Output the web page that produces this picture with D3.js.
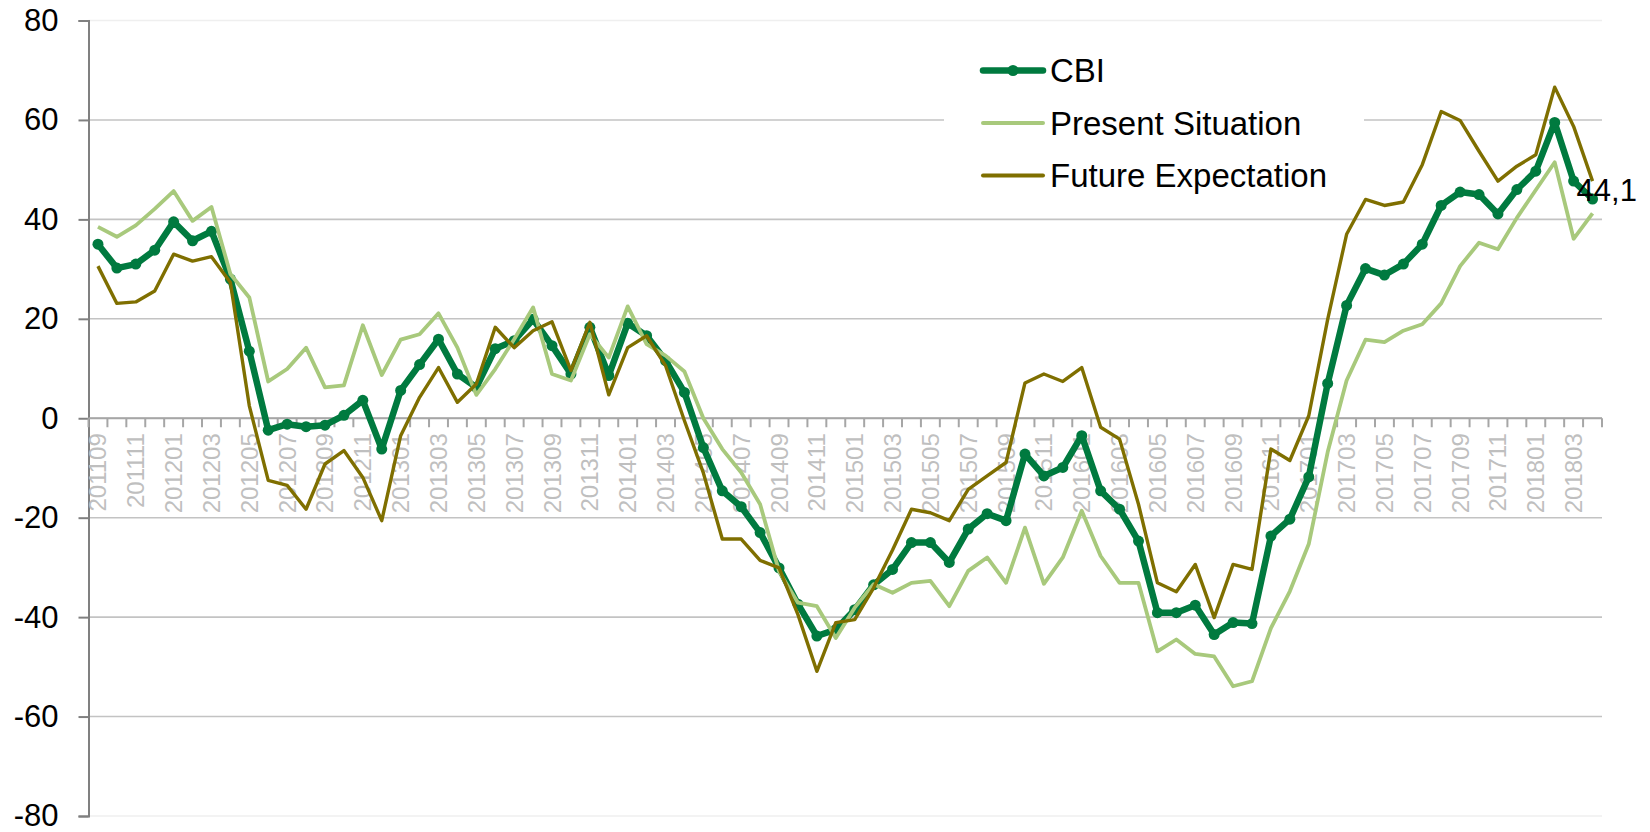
<!DOCTYPE html>
<html>
<head>
<meta charset="utf-8">
<script src="https://cdn.jsdelivr.net/npm/d3@7"></script>
<style>
  html, body { margin: 0; padding: 0; background: #fff; }
  svg { display: block; font-family: "Liberation Sans", Arial, sans-serif; }
</style>
</head>
<body>
<svg id="chart" width="1650" height="832"></svg>
<script>
// categories: month codes
var months = [
  "201109","201110","201111","201112",
  "201201","201202","201203","201204","201205","201206","201207","201208","201209","201210","201211","201212",
  "201301","201302","201303","201304","201305","201306","201307","201308","201309","201310","201311","201312",
  "201401","201402","201403","201404","201405","201406","201407","201408","201409","201410","201411","201412",
  "201501","201502","201503","201504","201505","201506","201507","201508","201509","201510","201511","201512",
  "201601","201602","201603","201604","201605","201606","201607","201608","201609","201610","201611","201612",
  "201701","201702","201703","201704","201705","201706","201707","201708","201709","201710","201711","201712",
  "201801","201802","201803","201804"
];

var cbi = [
  35.0, 30.2, 31.0, 33.8,
  39.5, 35.7, 37.6, 28.0, 13.5, -2.4, -1.2, -1.7, -1.4, 0.6, 3.6, -6.2,
  5.6, 10.8, 15.9, 8.9, 6.2, 14.0, 15.6, 19.9, 14.6, 8.9, 18.3, 8.6,
  19.1, 16.6, 11.6, 5.2, -5.9, -14.6, -17.8, -23.0, -30.1, -37.4, -43.8, -42.5,
  -38.5, -33.5, -30.4, -25.0, -25.0, -29.0, -22.3, -19.2, -20.6, -7.2, -11.6, -9.9,
  -3.5, -14.6, -18.3, -24.7, -39.1, -39.1, -37.6, -43.5, -41.1, -41.3, -23.7, -20.3,
  -11.8, 7.0, 22.7, 30.1, 28.8, 31.0, 35.0, 42.8, 45.5, 45.0, 41.1, 46.0,
  49.7, 59.5, 47.7, 44.1
];

var present = [
  38.5, 36.5, 38.8, 42.1,
  45.7, 39.7, 42.5, 29.0, 24.3, 7.4, 9.9, 14.2, 6.2, 6.6, 18.7, 8.7,
  15.8, 16.9, 21.1, 14.2, 4.7, 9.9, 15.9, 22.3, 8.9, 7.6, 16.9, 12.2,
  22.5, 14.9, 12.6, 9.4, 0.0, -6.2, -10.9, -17.3, -30.8, -37.1, -37.8, -44.2,
  -38.1, -33.4, -35.1, -33.1, -32.7, -37.8, -30.7, -28.0, -33.1, -22.0, -33.3, -28.0,
  -18.6, -27.7, -33.1, -33.1, -46.9, -44.5, -47.4, -47.9, -53.9, -52.9, -42.2, -34.8,
  -25.3, -6.8, 7.6, 15.8, 15.3, 17.6, 18.9, 23.1, 30.6, 35.3, 34.0, 40.3,
  45.9, 51.5, 36.1, 41.2
];

var future = [
  30.6, 23.1, 23.4, 25.6,
  33.0, 31.6, 32.5, 27.3, 2.5, -12.5, -13.5, -18.3, -9.2, -6.5, -11.9, -20.6,
  -3.5, 4.2, 10.2, 3.2, 6.9, 18.3, 14.2, 17.6, 19.4, 9.6, 19.3, 4.7,
  14.2, 16.6, 10.6, -0.5, -11.0, -24.3, -24.3, -28.6, -30.1, -39.5, -50.9, -41.1,
  -40.5, -34.1, -26.5, -18.3, -19.0, -20.6, -14.3, -11.6, -8.9, 7.1, 8.9, 7.4,
  10.2, -1.8, -4.2, -17.3, -33.1, -34.9, -29.4, -40.1, -29.4, -30.4, -6.2, -8.5,
  0.5, 19.9, 37.0, 44.0, 42.8, 43.5, 51.0, 61.7, 59.9, 53.7, 47.7, 50.7,
  53.0, 66.6, 58.7, 47.7
];

var yTicks = [-80, -60, -40, -20, 0, 20, 40, 60, 80];
var seriesNames = ["CBI", "Present Situation", "Future Expectation"];
var seriesColors = ["#007a3f", "#a8c97c", "#7f6f00"];

var svg = d3.select("#chart");

var x = d3.scaleBand().domain(months).range([88.5, 1602]);
var y = d3.scaleLinear().domain([-80, 80]).range([816, 20.5]);

// gridlines
svg.append("g").selectAll("line")
  .data(yTicks)
  .enter().append("line")
  .attr("x1", 88.5).attr("x2", 1602)
  .attr("y1", d => y(d)).attr("y2", d => y(d))
  .attr("stroke", d => (Math.abs(d) === 80 ? "#efefef" : "#c3c3c3"))
  .attr("stroke-width", 1.6);

// y axis (plain hyphen for negatives, like the original)
var yAxis = svg.append("g").attr("transform", "translate(88.5,0)")
  .call(d3.axisLeft(y).tickValues(yTicks).tickSize(10).tickPadding(20).tickFormat(d => String(d)));
yAxis.select(".domain").attr("stroke", "#808080").attr("stroke-width", 2);
yAxis.selectAll(".tick line").attr("stroke", "#808080").attr("stroke-width", 2);
yAxis.selectAll(".tick text")
  .attr("font-size", 31).attr("fill", "#000")
  .attr("font-family", "Liberation Sans, Arial, sans-serif");

// x axis at zero with ticks between categories
var xg = svg.append("g");
xg.append("line")
  .attr("x1", 88.5).attr("x2", 1602)
  .attr("y1", y(0)).attr("y2", y(0))
  .attr("stroke", "#a6a6a6").attr("stroke-width", 2);
xg.selectAll(".xtick")
  .data(months.concat(["end"]))
  .enter().append("line")
  .attr("class", "xtick")
  .attr("x1", (d, i) => 88.5 + i * x.step())
  .attr("x2", (d, i) => 88.5 + i * x.step())
  .attr("y1", y(0)).attr("y2", y(0) + 9)
  .attr("stroke", "#a6a6a6").attr("stroke-width", 2);

var tickLabels = months.filter((d, i) => i % 2 === 0);
xg.selectAll(".xlabel")
  .data(tickLabels)
  .enter().append("text")
  .attr("class", "xlabel")
  .attr("transform", d => "translate(" + (x(d) + x.bandwidth() / 2) + "," + (y(0) + 15) + ") rotate(-90)")
  .attr("text-anchor", "end")
  .attr("dominant-baseline", "central")
  .attr("font-size", 24)
  .attr("fill", "#bfbfbf")
  .text(d => d);

// legend box (white background breaks the 60 gridline)
var lg = svg.append("g");
lg.append("rect")
  .attr("x", 944).attr("y", 40).attr("width", 420).attr("height", 165)
  .attr("fill", "#fff");

// lines
var line = d3.line()
  .x((d, i) => x(months[i]) + x.bandwidth() / 2)
  .y(d => y(d));

svg.append("path").datum(cbi)
  .attr("d", line).attr("fill", "none")
  .attr("stroke", seriesColors[0]).attr("stroke-width", 6.5)
  .attr("stroke-linejoin", "round");
svg.append("g").selectAll("circle")
  .data(cbi)
  .enter().append("circle")
  .attr("cx", (d, i) => x(months[i]) + x.bandwidth() / 2)
  .attr("cy", d => y(d))
  .attr("r", 5.5)
  .attr("fill", seriesColors[0]);

svg.append("path").datum(present)
  .attr("d", line).attr("fill", "none")
  .attr("stroke", seriesColors[1]).attr("stroke-width", 3.8)
  .attr("stroke-linejoin", "round");

svg.append("path").datum(future)
  .attr("d", line).attr("fill", "none")
  .attr("stroke", seriesColors[2]).attr("stroke-width", 3.4)
  .attr("stroke-linejoin", "round");

// data label on the last CBI point
var last = cbi.length - 1;
svg.append("text")
  .attr("x", x(months[last]) + x.bandwidth() / 2 - 16)
  .attr("y", y(cbi[last]) + 2)
  .attr("font-size", 31)
  .attr("fill", "#000")
  .text(d3.format(".1f")(cbi[last]).replace(".", ","));

// legend entries
var rows = lg.selectAll(".row")
  .data(seriesNames)
  .enter().append("g")
  .attr("transform", (d, i) => "translate(983," + (70.5 + i * 52.5) + ")");
rows.append("line")
  .attr("x1", 0).attr("x2", 60)
  .attr("stroke", (d, i) => seriesColors[i])
  .attr("stroke-width", (d, i) => (i === 0 ? 6.5 : 4))
  .attr("stroke-linecap", "round");
rows.filter((d, i) => i === 0).append("circle")
  .attr("cx", 30).attr("r", 5.5).attr("fill", seriesColors[0]);
rows.append("text")
  .attr("x", 67)
  .attr("dy", "0.35em")
  .attr("font-size", 33)
  .attr("fill", "#000")
  .text(d => d);
</script>
</body>
</html>
